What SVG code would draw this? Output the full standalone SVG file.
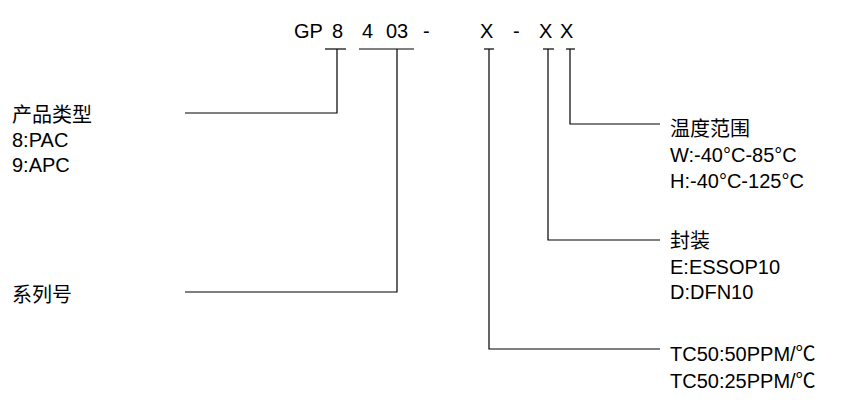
<svg xmlns="http://www.w3.org/2000/svg" width="846" height="404" viewBox="0 0 846 404">
<style>
text{font-family:"Liberation Sans","Noto Sans CJK SC",sans-serif;font-size:20px;fill:#000}
.c{font-size:20px}
line,polyline{stroke:#000;stroke-width:1.2;fill:none}
</style>
<rect width="846" height="404" fill="#fff"/>
<g id="code">
<text class="c" x="294" y="38">GP</text><text class="c" x="332" y="38">8</text><text class="c" x="362" y="38">4</text><text class="c" x="386" y="38">03</text><text class="c" x="423" y="38">-</text><text class="c" x="480" y="38">X</text><text class="c" x="513" y="38">-</text><text class="c" x="539" y="38">X</text><text class="c" x="560" y="38">X</text>
</g>
<g id="connectors">
<line x1="325" y1="49" x2="346" y2="49"/><polyline points="337,49 337,113 185,113"/>
<line x1="359" y1="49" x2="414" y2="49"/><polyline points="397,49 397,292 185,292"/>
<line x1="484" y1="49" x2="494" y2="49"/><polyline points="489,49 489,349 660,349"/>
<line x1="543" y1="49" x2="554" y2="49"/><polyline points="548,49 548,240 660,240"/>
<line x1="566" y1="49" x2="575" y2="49"/><polyline points="570,49 570,124 660,124"/>
</g>
<g id="type"><text x="12" y="122">产品类型</text><text x="12" y="147">8:PAC</text><text x="12" y="172">9:APC</text></g>
<g id="series"><text x="12" y="302">系列号</text></g>
<g id="temp"><text x="670" y="136">温度范围</text><text x="670" y="162">W:-40°C-85°C</text><text x="670" y="188">H:-40°C-125°C</text></g>
<g id="pkg"><text x="670" y="248">封装</text><text x="670" y="274">E:ESSOP10</text><text x="670" y="299">D:DFN10</text></g>
<g id="tc"><text x="670" y="361">TC50:50PPM/℃</text><text x="670" y="388">TC50:25PPM/℃</text></g>
</svg>
